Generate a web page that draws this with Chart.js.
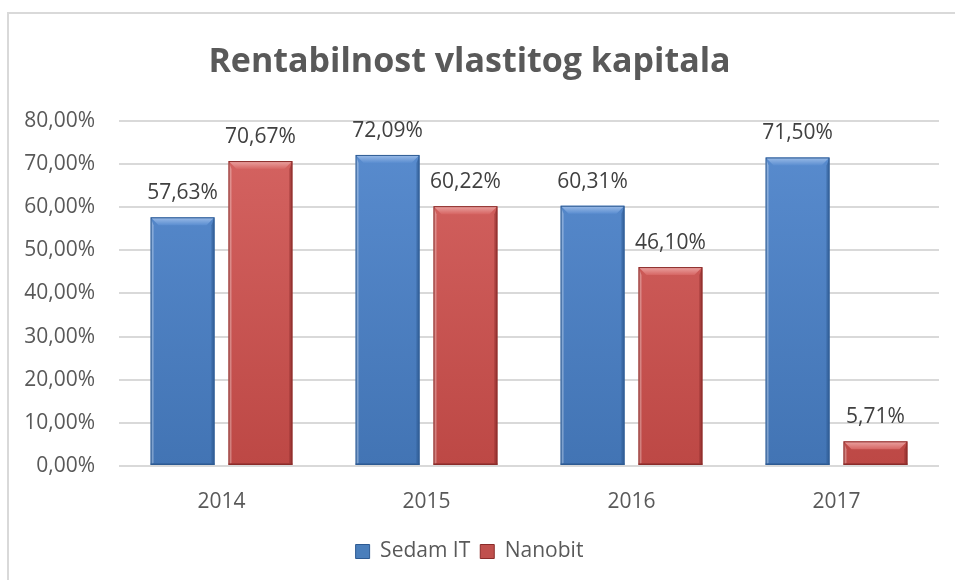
<!DOCTYPE html>
<html>
<head>
<meta charset="utf-8">
<script src="https://cdn.jsdelivr.net/npm/chart.js@4"></script>
<style>
  body { margin: 0; background: #fff; }
  #wrap { position: relative; width: 955px; height: 580px; }
  #frame {
    position: absolute; left: 7px; top: 12px; right: -4px; bottom: -4px;
    border-top: 2px solid #d9d9d9; border-left: 2px solid #d9d9d9;
    pointer-events: none;
  }
  canvas { position: absolute; left: 0; top: 0; }
</style>
</head>
<body>
<div id="wrap">
  <canvas id="chart" width="955" height="580"></canvas>
  <div id="frame"></div>
</div>
<script>
const years = ["2014", "2015", "2016", "2017"];
const sedamIT = [57.63, 72.09, 60.31, 71.50];
const nanobit = [70.67, 60.22, 46.10, 5.71];
const yTicks = [0, 10, 20, 30, 40, 50, 60, 70, 80];

const FONT = "'Open Sans', 'Liberation Sans', sans-serif";
const TXT = 21;

// comma decimal like the original
const fmt = (v) => v.toFixed(2).replace(".", ",") + "%";

const colors = {
  blue: { light: "#5a8dd0", dark: "#4274b4", top: "#9dbde8", edge: "#2d5a92", legend: "#4a7ebb" },
  red: { light: "#d66563", dark: "#bd4845", top: "#eba5a3", edge: "#8a2c2a", legend: "#c0504d" },
};

const barFill = (c) => (context) => {
  const area = context.chart.chartArea;
  if (!area) return c.light;
  const g = context.chart.ctx.createLinearGradient(0, area.top, 0, area.bottom);
  g.addColorStop(0, c.light);
  g.addColorStop(1, c.dark);
  return g;
};

// Excel-like bevel on each bar
const bevelPlugin = {
  id: "bevel",
  afterDatasetsDraw(chart) {
    const ctx = chart.ctx;
    chart.data.datasets.forEach((ds, i) => {
      const c = ds._c;
      chart.getDatasetMeta(i).data.forEach((bar) => {
        const l = bar.x - bar.width / 2, r = bar.x + bar.width / 2;
        const t = bar.y, b = bar.base;
        const h = b - t;
        const d = Math.min(8, h / 2);
        ctx.save();
        // top bevel
        const tg = ctx.createLinearGradient(0, t, 0, t + d);
        tg.addColorStop(0, c.top);
        tg.addColorStop(1, c.light);
        ctx.fillStyle = tg;
        ctx.beginPath();
        ctx.moveTo(l, t); ctx.lineTo(r, t); ctx.lineTo(r - d, t + d); ctx.lineTo(l + d, t + d);
        ctx.closePath(); ctx.fill();
        // left side
        ctx.globalAlpha = 0.3;
        ctx.fillStyle = "#ffffff";
        ctx.beginPath();
        ctx.moveTo(l, t); ctx.lineTo(l + 3, t + d); ctx.lineTo(l + 3, b - 2); ctx.lineTo(l, b);
        ctx.closePath(); ctx.fill();
        // right side
        ctx.globalAlpha = 0.55;
        ctx.fillStyle = c.edge;
        ctx.beginPath();
        ctx.moveTo(r, t); ctx.lineTo(r - 3, t + d); ctx.lineTo(r - 3, b - 2); ctx.lineTo(r, b);
        ctx.closePath(); ctx.fill();
        // bottom
        ctx.fillRect(l, b - 2, bar.width, 2);
        ctx.globalAlpha = 1;
        ctx.strokeStyle = c.edge;
        ctx.lineWidth = 1;
        ctx.strokeRect(l + 0.5, t + 0.5, bar.width - 1, h - 1);
        ctx.restore();
      });
    });
  },
};

// value labels above bars
const labelPlugin = {
  id: "valueLabels",
  afterDatasetsDraw(chart) {
    const ctx = chart.ctx;
    ctx.save();
    ctx.font = TXT + "px " + FONT;
    ctx.fillStyle = "#404040";
    ctx.textAlign = "center";
    ctx.textBaseline = "middle";
    chart.data.datasets.forEach((ds, i) => {
      chart.getDatasetMeta(i).data.forEach((bar, j) => {
        ctx.fillText(fmt(ds.data[j]), bar.x, bar.y - 24);
      });
    });
    ctx.restore();
  },
};

new Chart(document.getElementById("chart"), {
  type: "bar",
  data: {
    labels: years,
    datasets: [
      {
        label: "Sedam IT",
        data: sedamIT,
        backgroundColor: barFill(colors.blue),
        _c: colors.blue,
        categoryPercentage: 0.76,
        barPercentage: 0.82,
      },
      {
        label: "Nanobit",
        data: nanobit,
        backgroundColor: barFill(colors.red),
        _c: colors.red,
        categoryPercentage: 0.76,
        barPercentage: 0.82,
      },
    ],
  },
  options: {
    responsive: false,
    animation: false,
    layout: { padding: { left: 0, right: 16, top: 0, bottom: 8 } },
    plugins: {
      tooltip: { enabled: false },
      title: {
        display: true,
        text: "Rentabilnost vlastitog kapitala",
        color: "#595959",
        font: { family: FONT, size: 34, weight: "bold" },
        padding: { top: 42, bottom: 38 },
      },
      legend: {
        position: "bottom",
        labels: {
          color: "#595959",
          font: { family: FONT, size: TXT },
          boxWidth: 14,
          boxHeight: 14,
          padding: 10,
          generateLabels: (chart) =>
            chart.data.datasets.map((ds, i) => ({
              text: ds.label,
              fillStyle: ds._c.legend,
              strokeStyle: ds._c.edge,
              lineWidth: 1,
              fontColor: "#595959",
              datasetIndex: i,
            })),
        },
      },
    },
    scales: {
      x: {
        grid: { display: false },
        border: { display: false },
        ticks: { color: "#595959", font: { family: FONT, size: TXT }, padding: 15 },
        afterFit: (scale) => { scale.height = 65; },
      },
      y: {
        min: 0,
        max: 80,
        afterBuildTicks: (scale) => { scale.ticks = yTicks.map((v) => ({ value: v })); },
        grid: { color: "#d9d9d9", lineWidth: 2, drawTicks: false },
        border: { display: false },
        ticks: {
          color: "#595959",
          font: { family: FONT, size: TXT },
          padding: 24,
          callback: (v) => fmt(v),
        },
        afterFit: (scale) => { scale.width = 119; },
      },
    },
  },
  plugins: [bevelPlugin, labelPlugin],
});
</script>
</body>
</html>
